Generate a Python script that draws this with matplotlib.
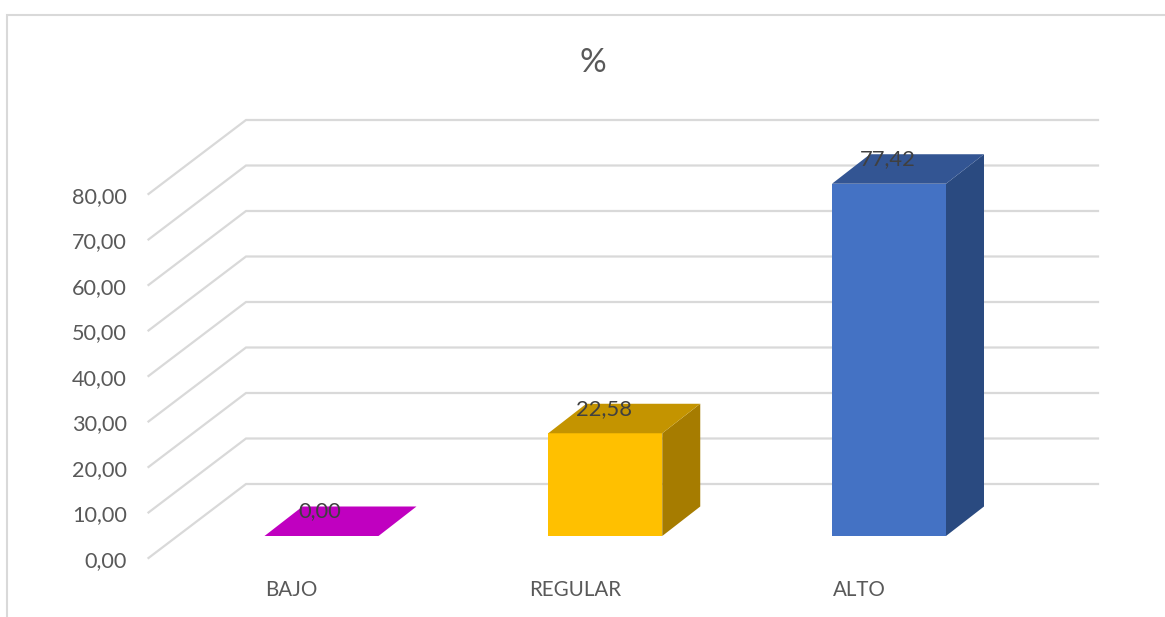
import matplotlib
matplotlib.use("Agg")
import matplotlib.pyplot as plt
from matplotlib.patches import Polygon

plt.rcParams['font.family'] = ['Lato', 'DejaVu Sans']

categories = ["BAJO", "REGULAR", "ALTO"]
values = [0.00, 22.58, 77.42]
ticks = [0, 10, 20, 30, 40, 50, 60, 70, 80]
front_colors = ["#C000C0", "#FFC000", "#4472C4"]
top_colors = ["#C000C0", "#C49400", "#335593"]
side_colors = ["#C000C0", "#A67C00", "#2A4A80"]

W, H = 1165, 617
CAT_PX = 283.75        # px between two categories
VAL_PX = 4.55          # px per unit of the value axis
X0, Y0 = 321.5, 536    # where category 0 / value 0 fall in the picture


def px_x(n):
    return n / CAT_PX


def px_y(n):
    return n / VAL_PX


fig = plt.figure(figsize=(W / 100, H / 100), dpi=100)
ax = fig.add_axes([0, 0, 1, 1])
ax.set_xlim(-X0 / CAT_PX, (W - X0) / CAT_PX)
ax.set_ylim(-(H - Y0) / VAL_PX, Y0 / VAL_PX)
ax.axis("off")

# chart frame, only left and top show up in the crop
ax.plot([px_x(6.5 - X0)] * 2 + [px_x(W - X0)],
        [px_y(Y0 - H), px_y(Y0 - 14.5), px_y(Y0 - 14.5)],
        color="#D9D9D9", lw=1.5, solid_joinstyle="miter")

# gridlines: floor/side wall part then back wall part
for t in ticks:
    ax.plot([px_x(148.5 - X0), px_x(246 - X0), px_x(1098 - X0)],
            [t - px_y(22), t + px_y(52), t + px_y(52)],
            color="#D9D9D9", lw=1.6, zorder=1, solid_joinstyle="miter")
    ax.text(px_x(127 - X0), t - px_y(25), f"{t:.2f}".replace(".", ","),
            ha="right", va="center", fontsize=15.6, color="#595959")

half = px_x(57)
dx, dy = px_x(38), px_y(29.5)
for i, v in enumerate(values):
    l, r = i - half, i + half
    if v > 0:
        ax.add_patch(Polygon([(l, 0), (r, 0), (r, v), (l, v)], fc=front_colors[i], ec="none", zorder=3))
        ax.add_patch(Polygon([(r, 0), (r + dx, dy), (r + dx, v + dy), (r, v)], fc=side_colors[i], ec="none", zorder=3))
    ax.add_patch(Polygon([(l, v), (r, v), (r + dx, v + dy), (l + dx, v + dy)], fc=top_colors[i], ec="none", zorder=3))
    ax.text(i - px_x(1.5), v + px_y(24.5), f"{v:.2f}".replace(".", ","), ha="center", va="center",
            fontsize=15.8, color="#404040", zorder=4)
    ax.text(i - px_x(30), -px_y(54.5), categories[i], ha="center", va="center",
            fontsize=14.8, color="#595959")

ax.text(px_x(593 - X0), px_y(Y0 - 63), "%", ha="center", va="center", fontsize=24, color="#595959")

fig.savefig("out.png", dpi=100)
